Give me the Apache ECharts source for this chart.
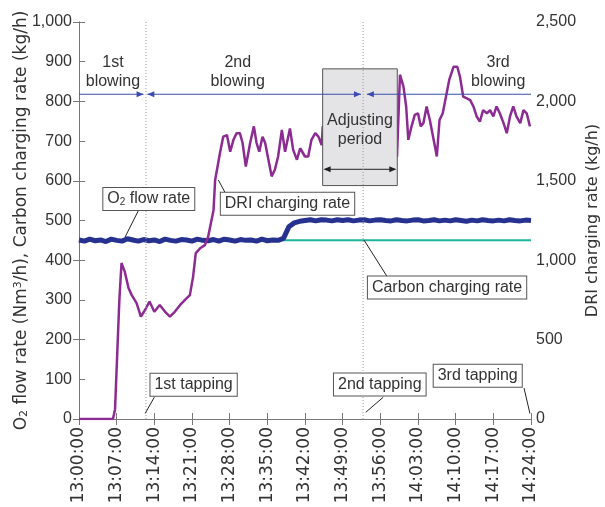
<!DOCTYPE html>
<html>
<head>
<meta charset="utf-8">
<script src="https://cdn.jsdelivr.net/npm/echarts@6/dist/echarts.min.js"></script>
<style>
  html, body { margin: 0; background: #fff; }
  #main { width: 605px; height: 507px; }
</style>
</head>
<body>
<div id="main"></div>
<script>
// minutes after 13:00:00
var o2Minutes = [0,1,2,3,4,5,6,7,8,9,10,11,12,13,14,15,16,17,18,19,20,21,22,23,24,25,26,27,28,29,30,31,32,33,34,35,36,37,38,39,40,41,42,43,44,45,46,47,48,49,50,51,52,53,54,55,56,57,58,59,60,61,62,63,64,65,66,67,68,69,70,71,72,73,74,75,76,77,78,79,80,81,82,83,84];
var o2Flow = [451,448,453,449,451,447,453,450,448,454,451,448,452,449,451,447,453,450,448,452,451,448,453,450,449,452,448,453,451,448,452,450,451,448,453,449,451,450,455,484,494,498,500,502,499,502,501,499,502,500,502,499,501,502,499,501,502,500,499,502,500,499,501,502,499,500,502,499,501,499,502,500,498,501,499,502,500,499,501,499,502,500,499,501,500];

var carbonMinutes = [0, 84];
var carbonRate = [450, 450];

var driMinutes = [0,6.3,6.5,6.7,7.5,7.9,8.5,9.2,9.8,10.7,11.5,12.3,13.1,14.0,15.0,16.0,16.9,17.8,18.8,19.7,20.6,21.2,21.7,22.5,23.4,24.0,25.0,25.3,26.2,26.8,27.5,28.1,28.7,29.3,29.9,30.4,31.0,31.8,32.5,33.0,33.5,34.1,34.6,35.2,35.8,36.4,37.0,37.7,38.3,39.2,39.8,40.5,41.1,42.0,42.6,43.2,43.9,44.5,45.1,45.3,
  59.1,59.65,60.3,60.8,61.2,61.8,62.4,63.0,63.5,64.0,64.6,65.2,65.8,66.5,67.0,67.6,68.2,68.8,69.6,70.3,70.8,71.4,72.0,72.7,73.3,73.9,74.5,75.1,75.8,76.4,77.0,77.6,78.2,78.9,79.5,80.1,80.7,81.3,82.0,82.6,83.2,83.8];
var driRate = [0,0,30,62,750,982,928,825,780,730,645,688,740,675,718,675,645,675,718,750,780,895,1045,1075,1095,1148,1315,1505,1675,1778,1788,1683,1758,1800,1800,1738,1590,1738,1843,1738,1683,1778,1738,1633,1528,1570,1653,1820,1683,1830,1695,1633,1705,1653,1653,1758,1800,1778,1725,1843,
  1653,2168,2093,1968,1758,1843,1915,1925,1843,1863,1968,1883,1778,1653,1883,1925,2030,2135,2218,2218,2155,2030,2020,2008,1968,1905,1873,1945,1925,1945,1905,1968,1925,1863,1800,1905,1968,1905,1863,1945,1925,1843];

// tapping times and blowing periods
var tappingMinutes = [12.45, 52.8];
var blowSegments = [[0, 12.0], [12.7, 52.4], [53.5, 84]];
var blowLevel = 818;
var blowLabels = ['1st\nblowing', '2nd\nblowing', '3rd\nblowing'];
var blowLabelAt = [[6.3, 873], [29.5, 873], [77.9, 873]];

// adjusting period box (minutes, left axis units)
var adjustX = [45.28, 59.15];
var adjustY = [588, 882];

var noteTexts = ['{n|O}{s|2}{n| flow rate}', 'DRI charging rate', 'Carbon charging rate', '1st tapping', '2nd tapping', '3rd tapping'];
var noteAt = [[12.97, 554], [38.75, 542], [68.4, 331], [21.3, 86], [55.9, 87], [74.1, 109]];
var noteLeader = [
  [[11.0, 524], [8.55, 458]],
  [[27.2, 569], [25.9, 602]],
  [[57.2, 360], [52.96, 451]],
  [[14.0, 55], [12.3, 14]],
  [[56.55, 55], [53.3, 17]],
  [[82.7, 78], [83.8, 14]]
];

var FONT = 'Liberation Sans';
var WIDE = 'DejaVu Sans';
var TXT = '#333';

function pairs(xs, ys) {
  return xs.map(function (x, i) { return [x, ys[i]]; });
}

function timeLabel(v) {
  var h = 13 + Math.floor(v / 60);
  var m = v % 60;
  return h + ':' + (m < 10 ? '0' : '') + m + ':00';
}

function commaLabel(v) {
  return v >= 1000 ? Math.floor(v / 1000) + ',' + String(v % 1000).padStart(3, '0') : String(v);
}

function head(tip, dir, color) {
  return {
    type: 'polygon',
    shape: { points: [tip, [tip[0] - dir * 7, tip[1] - 3], [tip[0] - dir * 7, tip[1] + 3]] },
    style: { fill: color }
  };
}

function renderBox(params, api) {
  var p0 = api.coord([adjustX[0], adjustY[1]]);
  var p1 = api.coord([adjustX[1], adjustY[0]]);
  var c = api.coord([(adjustX[0] + adjustX[1]) / 2, 728]);
  var ya = api.coord([0, 629])[1];
  return {
    type: 'group',
    children: [
      { type: 'rect', shape: { x: p0[0], y: p0[1], width: p1[0] - p0[0], height: p1[1] - p0[1] },
        style: { fill: '#e4e4e6', stroke: '#555', lineWidth: 1 } },
      { type: 'text', x: c[0], y: c[1],
        style: { text: 'Adjusting\nperiod', fill: TXT, fontSize: 16, fontFamily: FONT, align: 'center', verticalAlign: 'middle', lineHeight: 19 } },
      { type: 'line', shape: { x1: p0[0] + 2, y1: ya, x2: p1[0] - 2, y2: ya }, style: { stroke: '#222', lineWidth: 1 } },
      head([p0[0] + 1, ya], -1, '#222'),
      head([p1[0] - 1, ya], 1, '#222')
    ]
  };
}

function renderOverlay(params, api) {
  var kids = [];
  var blue = '#3c4bb0';
  // tapping dotted lines
  tappingMinutes.forEach(function (t) {
    var a = api.coord([t, 0]);
    var b = api.coord([t, 1000]);
    kids.push({ type: 'line', shape: { x1: a[0], y1: a[1], x2: b[0], y2: b[1] },
      style: { stroke: '#999', lineWidth: 1, lineDash: [1, 2] } });
  });
  // blowing periods
  blowSegments.forEach(function (s, i) {
    var a = api.coord([s[0], blowLevel]);
    var b = api.coord([s[1], blowLevel]);
    kids.push({ type: 'line', shape: { x1: a[0], y1: a[1], x2: b[0], y2: b[1] }, style: { stroke: blue, lineWidth: 1.2 } });
    if (i > 0) kids.push(head(a, -1, blue));
    if (i < blowSegments.length - 1) kids.push(head(b, 1, blue));
  });
  blowLabels.forEach(function (t, i) {
    var p = api.coord(blowLabelAt[i]);
    kids.push({ type: 'text', x: p[0], y: p[1],
      style: { text: t, fill: TXT, fontSize: 16, fontFamily: FONT, align: 'center', verticalAlign: 'middle', lineHeight: 19 } });
  });
  // notes with leader lines
  noteTexts.forEach(function (t, i) {
    var a = api.coord(noteLeader[i][0]);
    var b = api.coord(noteLeader[i][1]);
    kids.push({ type: 'line', shape: { x1: a[0], y1: a[1], x2: b[0], y2: b[1] }, style: { stroke: '#222', lineWidth: 1 } });
  });
  noteTexts.forEach(function (t, i) {
    var p = api.coord(noteAt[i]);
    kids.push({ type: 'text', x: p[0], y: p[1],
      style: {
        text: t, fill: TXT, fontSize: 16, fontFamily: FONT, align: 'center', verticalAlign: 'middle',
        backgroundColor: '#fff', borderColor: '#555', borderWidth: 1, padding: [3, 4],
        rich: {
          n: { fontSize: 16, fontFamily: FONT, fill: TXT },
          s: { fontSize: 10, fontFamily: FONT, fill: TXT, verticalAlign: 'bottom' }
        }
      } });
  });
  return { type: 'group', children: kids };
}

var chart = echarts.init(document.getElementById('main'));

var axisLineStyle = { color: '#777', width: 1 };

var option = {
  animation: false,
  textStyle: { fontFamily: FONT },
  grid: { left: 79, right: 74, top: 22, bottom: 88, outerBoundsMode: 'none', containLabel: false },
  xAxis: [
    {
      type: 'value', min: 0, max: 84, interval: 7,
      axisLine: { lineStyle: axisLineStyle },
      axisTick: { inside: true, length: 6, lineStyle: axisLineStyle },
      axisLabel: { rotate: 90, fontSize: 17, fontFamily: WIDE, color: TXT, margin: 8, formatter: timeLabel },
      splitLine: { show: false }
    },
    {
      type: 'value', position: 'top', min: 0, max: 84, interval: 7,
      axisLine: { lineStyle: axisLineStyle },
      axisTick: { inside: true, length: 6, lineStyle: axisLineStyle },
      axisLabel: { show: false },
      splitLine: { show: false }
    }
  ],
  yAxis: [
    {
      type: 'value', position: 'left', min: 0, max: 1000, interval: 100,
      name: '{n|O}{s|2}{n| flow rate (Nm}{p|3}{n|/h), Carbon charging rate (kg/h)}',
      nameLocation: 'middle', nameGap: 49, nameRotate: 90, nameMoveOverlap: false,
      nameTextStyle: {
        color: TXT, fontSize: 17, fontFamily: WIDE,
        rich: {
          n: { fontSize: 17, fontFamily: WIDE, color: TXT },
          s: { fontSize: 11, fontFamily: WIDE, color: TXT, verticalAlign: 'bottom' },
          p: { fontSize: 11, fontFamily: WIDE, color: TXT, verticalAlign: 'top' }
        }
      },
      axisLine: { show: true, lineStyle: axisLineStyle },
      axisTick: { inside: true, length: 6, lineStyle: axisLineStyle },
      axisLabel: { fontSize: 16, color: TXT, margin: 7, formatter: commaLabel },
      splitLine: { show: false }
    },
    {
      type: 'value', position: 'right', min: 0, max: 2500, interval: 500,
      name: 'DRI charging rate (kg/h)',
      nameLocation: 'middle', nameGap: 54, nameRotate: 90, nameMoveOverlap: false,
      nameTextStyle: { color: TXT, fontSize: 16, fontFamily: WIDE },
      axisLine: { show: true, lineStyle: axisLineStyle },
      axisTick: { inside: true, length: 6, lineStyle: axisLineStyle },
      axisLabel: { fontSize: 16, color: TXT, margin: 5, formatter: commaLabel },
      splitLine: { show: false }
    }
  ],
  series: [
    {
      name: 'Carbon charging rate', type: 'line', z: 2, symbol: 'none',
      data: pairs(carbonMinutes, carbonRate),
      lineStyle: { color: '#1bb59a', width: 2 }
    },
    {
      name: 'O2 flow rate', type: 'line', z: 3, symbol: 'none',
      data: pairs(o2Minutes, o2Flow),
      lineStyle: { color: '#27318f', width: 5 }
    },
    {
      name: 'DRI charging rate', type: 'line', yAxisIndex: 1, z: 4, symbol: 'none',
      data: pairs(driMinutes, driRate),
      lineStyle: { color: '#8c2c92', width: 2.5 }
    },
    {
      type: 'custom', z: 5, silent: true, clip: false,
      data: [[0, 0]], renderItem: renderBox
    },
    {
      type: 'custom', z: 6, silent: true, clip: false,
      data: [[0, 0]], renderItem: renderOverlay
    }
  ]
};

chart.setOption(option);
</script>
</body>
</html>
